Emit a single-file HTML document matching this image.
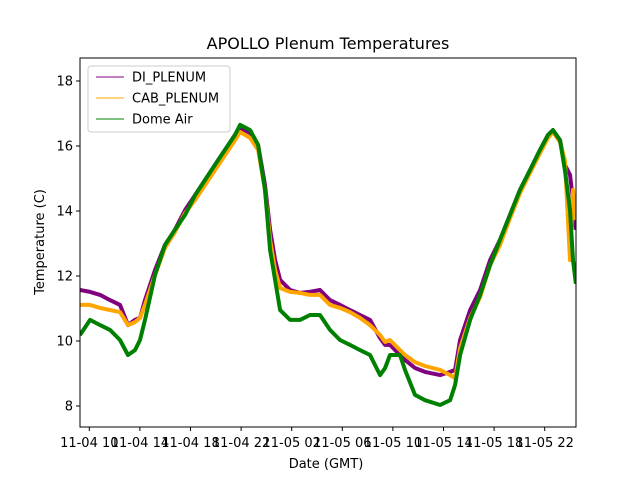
<!DOCTYPE html>
<html><head><meta charset="utf-8"><style>
body{margin:0;background:#fff;}
svg text{font-family:"DejaVu Sans","Liberation Sans",sans-serif;}
</style></head><body>
<svg id="chart" width="640" height="480" xmlns="http://www.w3.org/2000/svg">
<rect width="640" height="480" fill="#fff"/>
<text x="328" y="49" font-size="16" text-anchor="middle">APOLLO Plenum Temperatures</text>
<g id="plot"></g>
<text x="326" y="468" font-size="13" text-anchor="middle">Date (GMT)</text>
<text transform="translate(44,242) rotate(-90)" font-size="13" text-anchor="middle">Temperature (C)</text>
</svg>
<script>
const hours=[9.26,10.06,10.85,11.64,12.43,13.06,13.61,14.01,14.40,15.19,15.98,16.77,17.57,18.36,19.15,19.94,20.73,21.52,21.92,22.71,23.34,23.89,24.29,24.69,25.08,25.87,26.66,27.45,28.24,29.03,29.82,30.61,31.40,32.19,32.99,33.38,33.77,34.56,34.96,35.75,36.54,37.73,38.52,38.92,39.31,40.10,40.89,41.68,42.47,43.26,44.05,44.84,45.63,46.26,46.66,47.21,47.60,48.00,48.24,48.47];
const diPlenum=[11.57,11.51,11.42,11.26,11.11,10.49,10.65,10.71,11.26,12.18,12.95,13.42,14.03,14.49,14.95,15.42,15.88,16.34,16.55,16.40,16.03,14.80,13.42,12.49,11.88,11.57,11.48,11.51,11.57,11.26,11.11,10.95,10.80,10.65,10.09,9.88,9.88,9.57,9.42,9.17,9.05,8.95,9.05,9.11,10.03,10.95,11.57,12.49,13.11,13.88,14.65,15.26,15.88,16.34,16.49,16.18,15.42,15.11,14.34,13.42];
const cabPlenum=[11.11,11.11,11.02,10.95,10.89,10.49,10.58,10.71,11.11,12.03,12.86,13.35,13.94,14.34,14.80,15.26,15.72,16.18,16.43,16.25,15.88,14.65,13.11,12.18,11.63,11.51,11.48,11.42,11.42,11.11,11.02,10.89,10.71,10.49,10.18,9.97,10.03,9.72,9.57,9.35,9.23,9.11,8.95,8.86,9.78,10.71,11.35,12.34,12.95,13.78,14.55,15.17,15.78,16.25,16.43,16.12,15.57,12.49,14.65,13.72];
const domeAir=[10.18,10.65,10.49,10.34,10.03,9.57,9.72,10.03,10.65,12.03,12.95,13.42,13.88,14.49,14.95,15.42,15.88,16.34,16.65,16.49,16.03,14.65,12.80,11.88,10.95,10.65,10.65,10.80,10.80,10.34,10.03,9.88,9.72,9.57,8.95,9.17,9.57,9.57,9.11,8.34,8.18,8.03,8.18,8.65,9.57,10.65,11.42,12.34,13.11,13.88,14.65,15.26,15.88,16.34,16.49,16.18,15.26,14.03,12.49,11.76];
const yTicks=[8,10,12,14,16,18];
const xTickHours=[10,14,18,22,26,30,34,38,42,46];
const xTickLabels=["11-04 10","11-04 14","11-04 18","11-04 22","11-05 02","11-05 06","11-05 10","11-05 14","11-05 18","11-05 22"];
const L=80,R=576,T=58,B=427;
const X=h=>89.3+(h-10)*12.65;
const Y=v=>406-(v-8)*32.5;
const NS="http://www.w3.org/2000/svg";
const plot=document.getElementById('plot');
function mk(tag,attrs,parent){const e=document.createElementNS(NS,tag);for(const k in attrs)e.setAttribute(k,attrs[k]);(parent||plot).appendChild(e);return e;}
const clip=mk('clipPath',{id:'cp'});mk('rect',{x:L,y:T,width:R-L,height:B-T},clip);
const series=[[diPlenum,'#800080','di-plenum-line'],[cabPlenum,'#ffa500','cab-plenum-line'],[domeAir,'#008000','dome-air-line']];
series.forEach(s=>{
  const p=mk('polyline',{points:hours.map((h,i)=>X(h).toFixed(1)+','+Y(s[0][i]).toFixed(1)).join(' '),fill:'none',stroke:s[1],'stroke-width':4,'stroke-linejoin':'round','clip-path':'url(#cp)'});
  
  
});
const frame=mk('rect',{x:L,y:T,width:R-L,height:B-T,fill:'none',stroke:'#000','stroke-width':1});


yTicks.forEach(v=>{
  const t=mk('line',{x1:L-4,x2:L,y1:Y(v),y2:Y(v),stroke:'#000'});
  
  
  const tx=mk('text',{x:L-7,y:Y(v)+4.5,'font-size':13,'text-anchor':'end'});tx.textContent=v;
  
  
});
xTickHours.forEach((h,i)=>{
  const t=mk('line',{x1:X(h),x2:X(h),y1:B,y2:B+4,stroke:'#000'});
  
  
  const tx=mk('text',{x:X(h),y:447,'font-size':13,'text-anchor':'middle'});tx.textContent=xTickLabels[i];
  
  
});
const lg=mk('g',{});


mk('rect',{x:88,y:66,width:142,height:66,rx:3,fill:'#fff','fill-opacity':0.8,stroke:'#ccc'},lg);
const names=['DI_PLENUM','CAB_PLENUM','Dome Air'];
names.forEach((n,i)=>{
  const y=77+i*21;
  const ln=mk('line',{x1:96,x2:124,y1:y,y2:y,stroke:series[i][1],'stroke-width':1},lg);
  
  
  const tx=mk('text',{x:132,y:y+4.5,'font-size':13},lg);tx.textContent=n;
  
  
});
</script>
</body></html>
